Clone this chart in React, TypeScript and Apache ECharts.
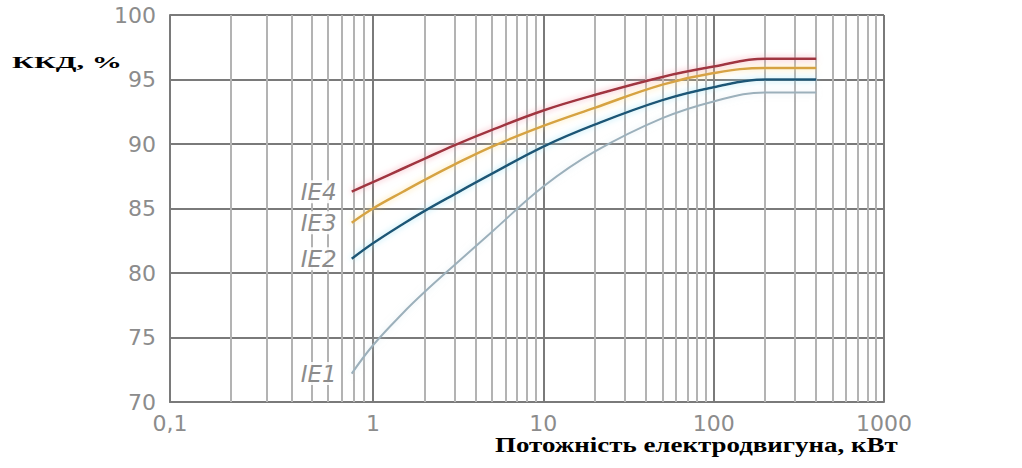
import React, { useEffect, useRef } from "react";
import * as echarts from "echarts";

// ---- data ----
const powerKW = [0.75, 1, 1.5, 2, 3, 5, 10, 20, 50, 100, 200, 400];
const ie4 = [86.3, 87.05, 88.1, 88.85, 89.9, 91.1, 92.6, 93.8, 95.2, 96.0, 96.6, 96.6];
const ie3 = [83.9, 85.0, 86.3, 87.2, 88.4, 89.8, 91.4, 92.8, 94.6, 95.5, 95.9, 95.9];
const ie2 = [81.1, 82.3, 83.8, 84.8, 86.1, 87.7, 89.8, 91.5, 93.4, 94.4, 95.0, 95.0];
const ie1 = [72.2, 74.4, 76.9, 78.5, 80.6, 83.2, 86.7, 89.4, 92.0, 93.3, 94.0, 94.0];
const seriesNames = ["IE4", "IE3", "IE2", "IE1"];
const seriesValues = [ie4, ie3, ie2, ie1];
const minorTicksLow = [0.2, 0.3, 0.4, 0.5, 0.6, 0.7, 0.8, 0.9];
const minorTicksHigh = [2, 3, 4, 5, 6, 7, 8, 9, 20, 30, 40, 50, 60, 70, 80, 90, 200, 300, 400, 500, 600, 700, 800, 900];
const yMin = 70;
const yMax = 100;
const yStep = 5;
const yTitle = "ККД, %";
const xTitle = "Потожність електродвигуна, кВт";

// ---- styles ----
const lineColors = ["#a0343f", "#d6a343", "#1d5676", "#9cb0bb"];
const glowColors = ["rgba(245,150,165,0.85)", "rgba(252,222,140,0.85)", "rgba(150,225,245,0.85)", "rgba(205,225,235,0.6)"];
const lineWidths = [2.5, 2.5, 2.5, 2];
const majorColor = "#7a7a7a";
const minorColor = "#b3b3b3";
const labelGray = "#8c8c8c";

function measure(text: string, font: string): number {
  const c = document.createElement("canvas").getContext("2d");
  if (!c) return 100;
  c.font = font;
  return c.measureText(text).width;
}

export default function App() {
  const ref = useRef<HTMLDivElement>(null);
  useEffect(() => {
    const chart = echarts.init(ref.current!, null, { renderer: "svg" });

    const gridTop = 15;
    const gridBottom = 468 - 402;
    const leftEdge = 170;
    const oneX = 373;
    const rightEdge = 884;
    const decade = (rightEdge - oneX) / 3;
    const mainLeft = oneX - decade;

    const yAxisBase = (gridIndex: number, showLabel: boolean) => ({
      type: "value",
      gridIndex,
      min: yMin,
      max: yMax,
      interval: yStep,
      axisLine: { show: showLabel, lineStyle: { color: majorColor, width: 2 } },
      axisTick: { show: false },
      axisLabel: {
        show: showLabel,
        color: labelGray,
        fontSize: 22,
        fontFamily: "DejaVu Sans",
        margin: 14,
      },
      splitLine: { show: true, lineStyle: { color: majorColor, width: 2 } },
    });

    const series: any[] = [
      {
        type: "line",
        name: "minorLow",
        xAxisIndex: 0,
        yAxisIndex: 0,
        data: [],
        z: 1,
        silent: true,
        markLine: {
          silent: true,
          symbol: ["none", "none"],
          label: { show: false },
          lineStyle: { type: "solid", color: minorColor, width: 2 },
          emphasis: { disabled: true },
          animation: false,
          data: minorTicksLow.map((v) => ({ xAxis: v })),
        },
      },
      {
        type: "line",
        name: "minorHigh",
        xAxisIndex: 1,
        yAxisIndex: 1,
        data: [],
        z: 1,
        silent: true,
        markLine: {
          silent: true,
          symbol: ["none", "none"],
          label: { show: false },
          lineStyle: { type: "solid", color: minorColor, width: 2 },
          emphasis: { disabled: true },
          animation: false,
          data: minorTicksHigh.map((v) => ({ xAxis: v })),
        },
      },
    ];

    seriesNames.forEach((name, si) => {
      const vals = seriesValues[si];
      series.push({
        type: "line",
        name,
        xAxisIndex: 1,
        yAxisIndex: 1,
        smooth: 0.4,
        symbol: "circle",
        symbolSize: 0,
        showSymbol: true,
        showAllSymbol: true,
        z: 8 - si,
        lineStyle: {
          color: lineColors[si],
          width: lineWidths[si],
          shadowColor: glowColors[si],
          shadowBlur: 6,
        },
        itemStyle: { color: lineColors[si] },
        data: powerKW.map((x, i) =>
          i === 0
            ? {
                value: [x, vals[i]],
                label: {
                  show: true,
                  formatter: name,
                  position: "left",
                  distance: 12,
                  color: labelGray,
                  fontStyle: "italic",
                  fontSize: 23,
                  fontFamily: "DejaVu Sans",
                  backgroundColor: "rgba(255,255,255,0.9)",
                  padding: [0, 3, 0, 3],
                },
              }
            : [x, vals[i]]
        ),
      });
    });

    const yFont = 'bold 17px "Liberation Serif"';
    const xFont = 'bold 21px "Liberation Serif"';
    const yScale = 110 / measure(yTitle, yFont);
    const xScale = 403 / measure(xTitle, xFont);

    const option: any = {
      animation: false,
      backgroundColor: "#ffffff",
      grid: [
        { left: leftEdge, width: oneX - leftEdge, top: gridTop, bottom: gridBottom },
        { left: mainLeft, width: rightEdge - mainLeft, top: gridTop, bottom: gridBottom },
      ],
      xAxis: [
        {
          type: "log",
          logBase: 10,
          gridIndex: 0,
          min: 0.1,
          max: 1,
          axisLine: { show: true, lineStyle: { color: majorColor, width: 2 } },
          axisTick: { show: false },
          axisLabel: {
            color: labelGray,
            fontSize: 22,
            fontFamily: "DejaVu Sans",
            margin: 10,
            formatter: (v: number) => (Math.abs(v - 0.1) < 1e-9 ? "0,1" : ""),
          },
          splitLine: { show: true, lineStyle: { color: majorColor, width: 2 } },
        },
        {
          type: "log",
          logBase: 10,
          gridIndex: 1,
          min: 0.1,
          max: 1000,
          axisLine: { show: true, lineStyle: { color: majorColor, width: 2 } },
          axisTick: { show: false },
          axisLabel: {
            color: labelGray,
            fontSize: 22,
            fontFamily: "DejaVu Sans",
            margin: 10,
            formatter: (v: number) => (v < 0.5 ? "" : String(Math.round(v))),
          },
          splitLine: {
            show: true,
            showMinLine: false,
            lineStyle: { color: majorColor, width: 2 },
          },
        },
      ],
      yAxis: [yAxisBase(0, true), yAxisBase(1, false)],
      series,
      graphic: [
        {
          type: "text",
          x: 12,
          y: 62,
          scaleX: yScale,
          style: {
            text: yTitle,
            fontFamily: "Liberation Serif",
            fontWeight: "bold",
            fontSize: 17,
            fill: "#000",
            verticalAlign: "middle",
            align: "left",
          },
        },
        {
          type: "text",
          x: 495,
          y: 445,
          scaleX: xScale,
          style: {
            text: xTitle,
            fontFamily: "Liberation Serif",
            fontWeight: "bold",
            fontSize: 21,
            fill: "#000",
            verticalAlign: "middle",
            align: "left",
          },
        },
      ],
    };

    chart.setOption(option);
    return () => chart.dispose();
  }, []);
  return (
    <div
      ref={ref}
      style={{ position: "fixed", left: 0, top: 0, width: 1022, height: 468 }}
    />
  );
}
